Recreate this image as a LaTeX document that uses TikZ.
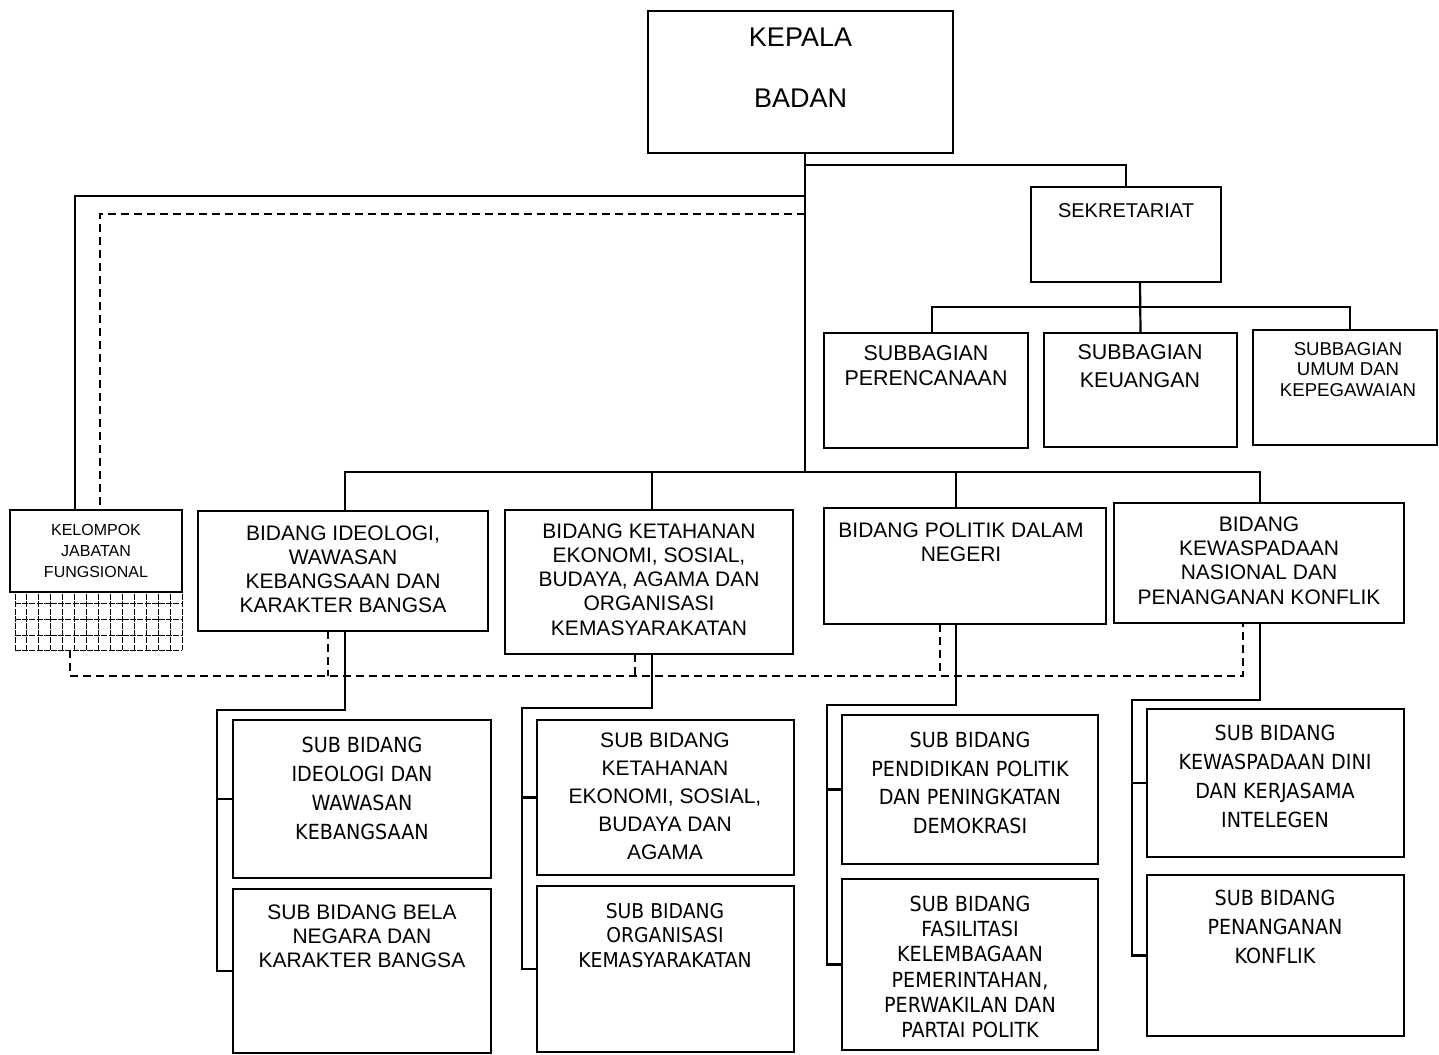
\documentclass[tikz,border=0pt]{standalone}
\usepackage{fontspec}
\setmainfont{Liberation Sans}
\newfontfamily\tah[FakeStretch=0.92]{DejaVu Sans}
\usetikzlibrary{fit,calc}
\tikzset{
  box/.style={draw, line width=1.35pt, inner sep=0pt, outer sep=0pt, fill=white},
  conn/.style={line width=1.1pt},
  dconn/.style={line width=1.2pt, dash pattern=on 4pt off 2.5pt},
  txt/.style={align=center, inner sep=0pt},
  gridln/.style={line width=0.45pt, dash pattern=on 3pt off 0.6pt},
}
\newcommand\fs[2]{\fontsize{#1}{#2}\selectfont}
\begin{document}
\begin{tikzpicture}[x=0.5pt,y=-0.5pt]
\useasboundingbox (0,0) rectangle (1439,1054);

% grid under Kelompok Jabatan Fungsional
\node[fit={(15,587) (182,650)}, inner sep=0pt] (grid) {};
\foreach \i in {0,...,14} \draw[gridln] ({15+\i*11.93},587) -- ({15+\i*11.93},650);
\foreach \r in {587,603,619,635,650} \draw[gridln] (15,\r) -- (182,\r);

% boxes
\node[box, fit={(648,11) (953,153)}] (kepala) {};
\node[box, fit={(1031,187) (1221,282)}] (sek) {};
\node[box, fit={(824,333) (1028,448)}] (sb1) {};
\node[box, fit={(1044,333) (1237,447)}] (sb2) {};
\node[box, fit={(1253,330) (1437,445)}] (sb3) {};
\node[box, fit={(10,510) (182,592)}] (kel) {};
\node[box, fit={(198,511) (488,631)}] (b1) {};
\node[box, fit={(505,510) (793,654)}] (b2) {};
\node[box, fit={(824,508) (1106,624)}] (b3) {};
\node[box, fit={(1114,503) (1404,623)}] (b4) {};
\node[box, fit={(233,720) (491,878)}] (s11) {};
\node[box, fit={(233,889) (491,1053)}] (s12) {};
\node[box, fit={(537,720) (794,875)}] (s21) {};
\node[box, fit={(537,886) (794,1052)}] (s22) {};
\node[box, fit={(842,715) (1098,864)}] (s31) {};
\node[box, fit={(842,879) (1098,1050)}] (s32) {};
\node[box, fit={(1147,709) (1404,857)}] (s41) {};
\node[box, fit={(1147,875) (1404,1036)}] (s42) {};

% texts
\node[txt, font=\fs{13.5}{30.5}] (kepalaT) at (800.5,67.5) {KEPALA\\BADAN};
\node[txt, font=\fs{10}{12}] (sekT) at (1126,211) {SEKRETARIAT};
\node[txt, font=\fs{10.7}{12.5}] (sb1T) at (926,365.5) {SUBBAGIAN\\PERENCANAAN};
\node[txt, font=\fs{10.7}{14}] (sb2T) at (1140,366) {SUBBAGIAN\\KEUANGAN};
\node[txt, font=\fs{9.3}{10.25}] (sb3T) at (1348,369.5) {SUBBAGIAN\\UMUM DAN\\KEPEGAWAIAN};
\node[txt, font=\fs{8}{10.5}] (kelT) at (96,551) {KELOMPOK\\JABATAN\\FUNGSIONAL};
\node[txt, font=\fs{10.5}{12}] (b1T) at (343,569) {BIDANG IDEOLOGI,\\WAWASAN\\KEBANGSAAN DAN\\KARAKTER BANGSA};
\node[txt, font=\fs{10.5}{12.1}] (b2T) at (649,579.5) {BIDANG KETAHANAN\\EKONOMI, SOSIAL,\\BUDAYA, AGAMA DAN\\ORGANISASI\\KEMASYARAKATAN};
\node[txt, font=\fs{10.5}{12}] (b3T) at (961,542) {BIDANG POLITIK DALAM\\NEGERI};
\node[txt, font=\fs{10.5}{12.15}] (b4T) at (1259,560.5) {BIDANG\\KEWASPADAAN\\NASIONAL DAN\\PENANGANAN KONFLIK};
\node[txt, font=\tah\fs{10.4}{14.5}] (s11T) at (362,788.5) {SUB BIDANG\\IDEOLOGI DAN\\WAWASAN\\KEBANGSAAN};
\node[txt, font=\fs{10.5}{12}] (s12T) at (362,936) {SUB BIDANG BELA\\NEGARA DAN\\KARAKTER BANGSA};
\node[txt, font=\fs{10.5}{14}] (s21T) at (665,796) {SUB BIDANG\\KETAHANAN\\EKONOMI, SOSIAL,\\BUDAYA DAN\\AGAMA};
\node[txt, font=\tah\fs{10.2}{12.25}] (s22T) at (665,935.5) {SUB BIDANG\\ORGANISASI\\KEMASYARAKATAN};
\node[txt, font=\tah\fs{10.4}{14.3}] (s31T) at (970,783) {SUB BIDANG\\PENDIDIKAN POLITIK\\DAN PENINGKATAN\\DEMOKRASI};
\node[txt, font=\tah\fs{10.4}{12.6}] (s32T) at (970,967) {SUB BIDANG\\FASILITASI\\KELEMBAGAAN\\PEMERINTAHAN,\\PERWAKILAN DAN\\PARTAI POLITK};
\node[txt, font=\tah\fs{10.4}{14.5}] (s41T) at (1275,776.5) {SUB BIDANG\\KEWASPADAAN DINI\\DAN KERJASAMA\\INTELEGEN};
\node[txt, font=\tah\fs{10.4}{14.5}] (s42T) at (1275,927) {SUB BIDANG\\PENANGANAN\\KONFLIK};

% junctions
\coordinate (mBus) at (805,472);
\coordinate (jS) at (805,165);
\coordinate (jK) at (805,196);
\coordinate (jD) at (805,214);
\coordinate (sbus) at (1140,307);
\coordinate (c1) at (217,710);
\coordinate (c2) at (522,708);
\coordinate (c3) at (827,705);
\coordinate (c4) at (1132,700);

% main connectors
\draw[conn] (kepala.south -| mBus) -- (mBus);
\draw[conn] (jS) -| (sek.north);
\draw[conn] (jK) -| ($(kel.north west)+(65,0)$);
\draw[dconn] (jD) -| ($(kel.north west)+(90,0)$);

% sekretariat
\draw[conn] ($(sek.south)+(14,0)$) -- (sb2.north);
\draw[conn] (sbus) -| ($(sb1.north)+(6,0)$);
\draw[conn] (sbus) -| ($(sb3.north)+(5,0)$);

% bidang bus
\draw[conn] ($(b1.north)+(2,0)$) |- (mBus);
\draw[conn] ($(b4.north)+(1,0)$) |- (mBus);
\draw[conn] (mBus) -| ($(b2.north)+(3,0)$);
\draw[conn] (mBus) -| ($(b3.north)+(-9,0)$);

% sub bidang trees
\draw[conn] ($(b1.south)+(2,0)$) |- (c1) |- (s12.west);
\draw[conn] (c1 |- s11.west) -- (s11.west);
\draw[conn] ($(b2.south)+(3,0)$) |- (c2) |- (s22.west);
\draw[conn] (c2 |- s21.west) -- (s21.west);
\draw[conn] ($(b3.south)+(-9,0)$) |- (c3) |- (s32.west);
\draw[conn] (c3 |- s31.west) -- (s31.west);
\draw[conn] ($(b4.south)+(1,0)$) |- (c4) |- (s42.west);
\draw[conn] (c4 |- s41.west) -- (s41.west);

% dashed coordination line
\draw[dconn] ($(grid.south)+(-28.5,0)$) |- ($(b4.south)+(-16,53)$) -- ($(b4.south)+(-16,0)$);
\draw[dconn] ($(b1.south)+(-15,0)$) -- ++(0,45);
\draw[dconn] ($(b2.south)+(-14,0)$) -- ++(0,22);
\draw[dconn] ($(b3.south)+(-25,0)$) -- ++(0,52);
\end{tikzpicture}
\end{document}
